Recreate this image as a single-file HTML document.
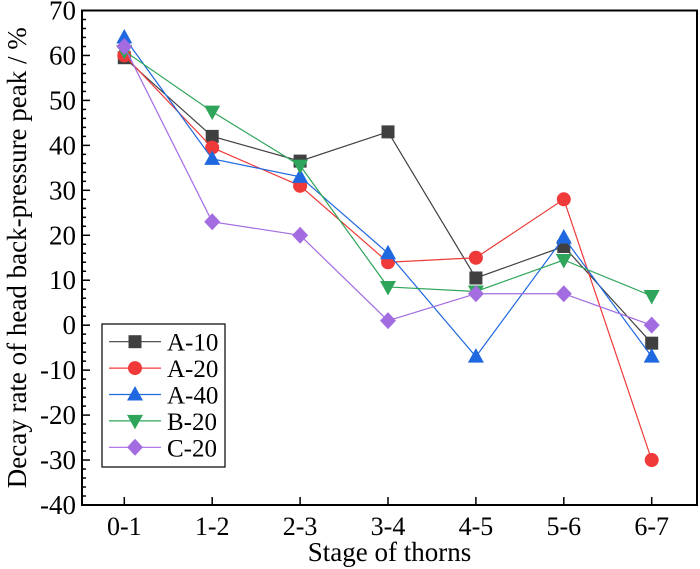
<!DOCTYPE html>
<html><head><meta charset="utf-8"><style>
html,body{margin:0;padding:0;background:#fff}
svg{display:block;font-family:"Liberation Serif",serif}
</style></head><body>
<svg id="chart" width="700" height="569" xmlns="http://www.w3.org/2000/svg"></svg>
<script>
const categories=["0-1","1-2","2-3","3-4","4-5","5-6","6-7"];
const seriesNames=["A-10","A-20","A-40","B-20","C-20"];
const a10=[59.5,42,36.5,43,10.5,17.5,-4];
const a20=[60,39.5,31,14,15,28,-30];
const a40=[64,37,33,16,-7,19.5,-7];
const b20=[61,47.5,35.5,8.5,7.5,14.5,6.5];
const c20=[62,23,20,1,7,7,0];
const yTicks=[-40,-30,-20,-10,0,10,20,30,40,50,60,70];
const colors=["#404040","#f03a3a","#1f68e0","#2ea55a","#a36ce0"];
const markers=["square","circle","up","down","diamond"];
const values=[a10,a20,a40,b20,c20];

const L=82,R=697,T=10.5,B=505,yMin=-40,yMax=70;
const x0=124.3,dx=87.9;
const xs=i=>x0+dx*i;
const ys=v=>B-(v-yMin)*(B-T)/(yMax-yMin);
const svg=document.getElementById('chart');
const NS="http://www.w3.org/2000/svg";
function mk(t,a,p){const e=document.createElementNS(NS,t);for(const k in a)e.setAttribute(k,a[k]);(p||svg).appendChild(e);return e;}
function marker(type,cx,cy,col,g){
  const s=6.5;let e;
  if(type==="square")e=mk('rect',{x:cx-s,y:cy-s,width:2*s,height:2*s,fill:col},g);
  else if(type==="circle")e=mk('circle',{cx:cx,cy:cy,r:s+0.5,fill:col},g);
  else if(type==="up")e=mk('polygon',{points:`${cx},${cy-s-2} ${cx-s-1.5},${cy+s-0.5} ${cx+s+1.5},${cy+s-0.5}`,fill:col},g);
  else if(type==="down")e=mk('polygon',{points:`${cx},${cy+s+2} ${cx-s-1.5},${cy-s+0.5} ${cx+s+1.5},${cy-s+0.5}`,fill:col},g);
  else e=mk('polygon',{points:`${cx},${cy-s-2} ${cx+s+1.5},${cy} ${cx},${cy+s+2} ${cx-s-1.5},${cy}`,fill:col},g);
  return e;
}
const frame=mk('rect',{x:L,y:T,width:R-L,height:B-T,fill:'none',stroke:'#000','stroke-width':2});


for(let v=yMin;v<=yMax;v+=2){
  const y=ys(v);const major=(v%10===0);
  mk('line',{x1:L,x2:L+(major?8:4),y1:y,y2:y,stroke:'#000','stroke-width':1.5});
}
yTicks.forEach(v=>{
  const t=mk('text',{x:L-6,y:ys(v)+9,'text-anchor':'end','font-size':27});
  t.textContent=v;
  
  
});
categories.forEach((c,i)=>{
  mk('line',{x1:xs(i),x2:xs(i),y1:B,y2:B-8,stroke:'#000','stroke-width':1.5});
  const t=mk('text',{x:xs(i),y:B+30,'text-anchor':'middle','font-size':26});
  t.textContent=c;
  
  
});
const xt=mk('text',{x:(L+R)/2,y:561,'text-anchor':'middle','font-size':27});
xt.textContent="Stage of thorns";


const yt=mk('text',{x:0,y:0,'text-anchor':'middle','font-size':27,transform:`translate(26,${(T+B)/2}) rotate(-90)`});
yt.textContent="Decay rate of head back-pressure peak / %";


values.forEach((vals,si)=>{
  const g=mk('g',{});
  
  
  mk('polyline',{points:vals.map((v,i)=>xs(i)+','+ys(v)).join(' '),fill:'none',stroke:colors[si],'stroke-width':1.2},g);
  vals.forEach((v,i)=>{
    const m=marker(markers[si],xs(i),ys(v),colors[si],g);
    
    
  });
});
const lg=mk('g',{});


mk('rect',{x:102,y:324,width:123,height:143,fill:'#fff',stroke:'#000','stroke-width':1.2},lg);
seriesNames.forEach((n,i)=>{
  const y=341.7+26.4*i;
  const e=mk('g',{},lg);
  
  
  mk('line',{x1:109,x2:161,y1:y,y2:y,stroke:colors[i],'stroke-width':1.2},e);
  marker(markers[i],135,y,colors[i],e);
  const t=mk('text',{x:167,y:y+9,'font-size':25},e);
  t.textContent=n;
});
</script>
</body></html>
